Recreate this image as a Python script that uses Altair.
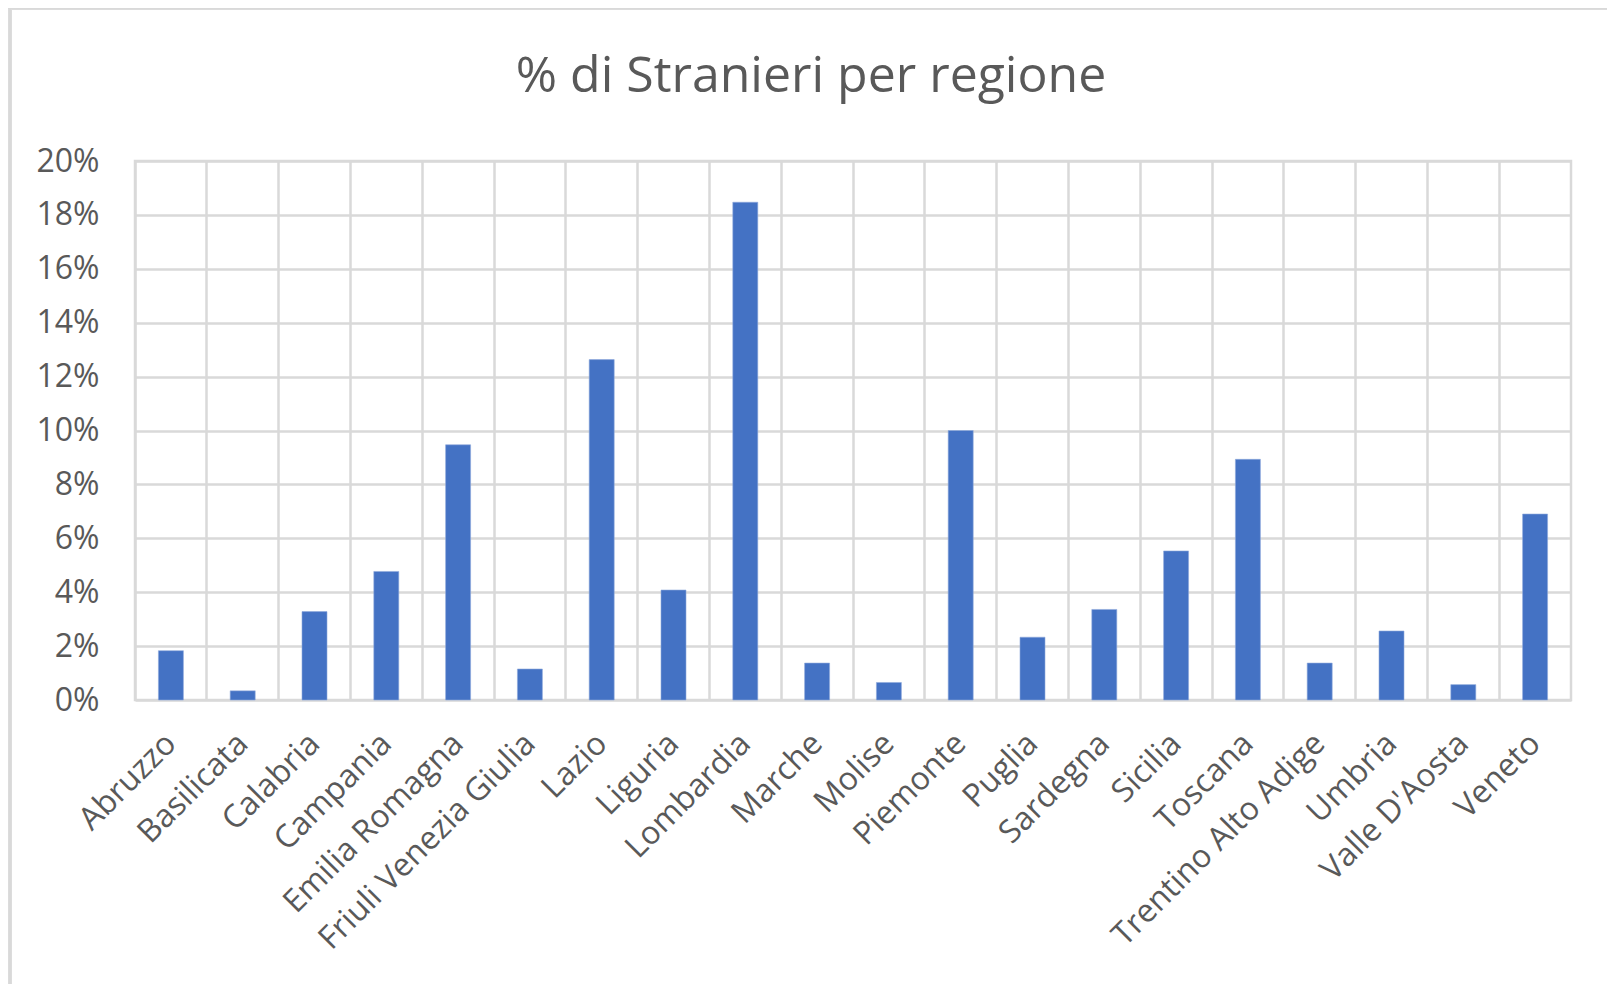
import altair as alt
import pandas as pd

regioni = ["Abruzzo", "Basilicata", "Calabria", "Campania", "Emilia Romagna",
           "Friuli Venezia Giulia", "Lazio", "Liguria", "Lombardia", "Marche",
           "Molise", "Piemonte", "Puglia", "Sardegna", "Sicilia", "Toscana",
           "Trentino Alto Adige", "Umbria", "Valle D'Aosta", "Veneto"]
percentuali = [1.83, 0.34, 3.28, 4.77, 9.47, 1.15, 12.63, 4.08, 18.47, 1.37,
               0.65, 10.0, 2.33, 3.36, 5.53, 8.93, 1.37, 2.56, 0.57, 6.9]
y_ticks = [0, 2, 4, 6, 8, 10, 12, 14, 16, 18, 20]

df = pd.DataFrame({"regione": regioni, "perc": [v / 100 for v in percentuali]})

FONT = "Open Sans"
GREY = "#595959"
GRID = "#d9d9d9"

bars = alt.Chart(df).mark_bar(size=25, color="#4472C4", stroke="#8fa9dc", strokeWidth=0.6).encode(
    x=alt.X("regione:N", sort=regioni, title=None,
            scale=alt.Scale(paddingInner=0, paddingOuter=0),
            axis=alt.Axis(labelAngle=-45, labelAlign="right", labelBaseline="middle",
                          labelFontSize=32, labelColor=GREY, labelFont=FONT,
                          labelPadding=38, ticks=False, domain=False,
                          grid=True, gridColor=GRID, gridWidth=2.5, bandPosition=0,
                          labelLimit=500)),
    y=alt.Y("perc:Q", title=None,
            scale=alt.Scale(domain=[0, 0.2], nice=False),
            axis=alt.Axis(values=[t / 100 for t in y_ticks], format=".0%",
                          labelFontSize=32, labelColor=GREY, labelFont=FONT,
                          labelPadding=36, ticks=False, domain=False,
                          gridColor=GRID, gridWidth=2.5)),
)

frame = alt.Chart(df).mark_rule(color="#d9d9d9", strokeWidth=2.5, clip=False).encode(
    x=alt.value(-125), y=alt.value(-153), y2=alt.value(831)
) + alt.Chart(df).mark_rule(color="#d9d9d9", strokeWidth=2.5, clip=False).encode(
    x=alt.value(-127), x2=alt.value(1472), y=alt.value(-153)
)

chart = (frame + bars).properties(
    width=1436, height=539,
    autosize=alt.AutoSizeParams(type="none"),
    padding={"left": 127, "top": 153, "right": 36, "bottom": 284},
    title=alt.TitleParams("% di Stranieri per regione", fontSize=50, font=FONT,
                          fontWeight="normal", color=GREY, offset=-95, anchor="middle",
                          dx=-42),
).configure_view(stroke=GRID, strokeWidth=2.5)

chart.save("out.html", embed_options={"renderer": "svg", "actions": False})
